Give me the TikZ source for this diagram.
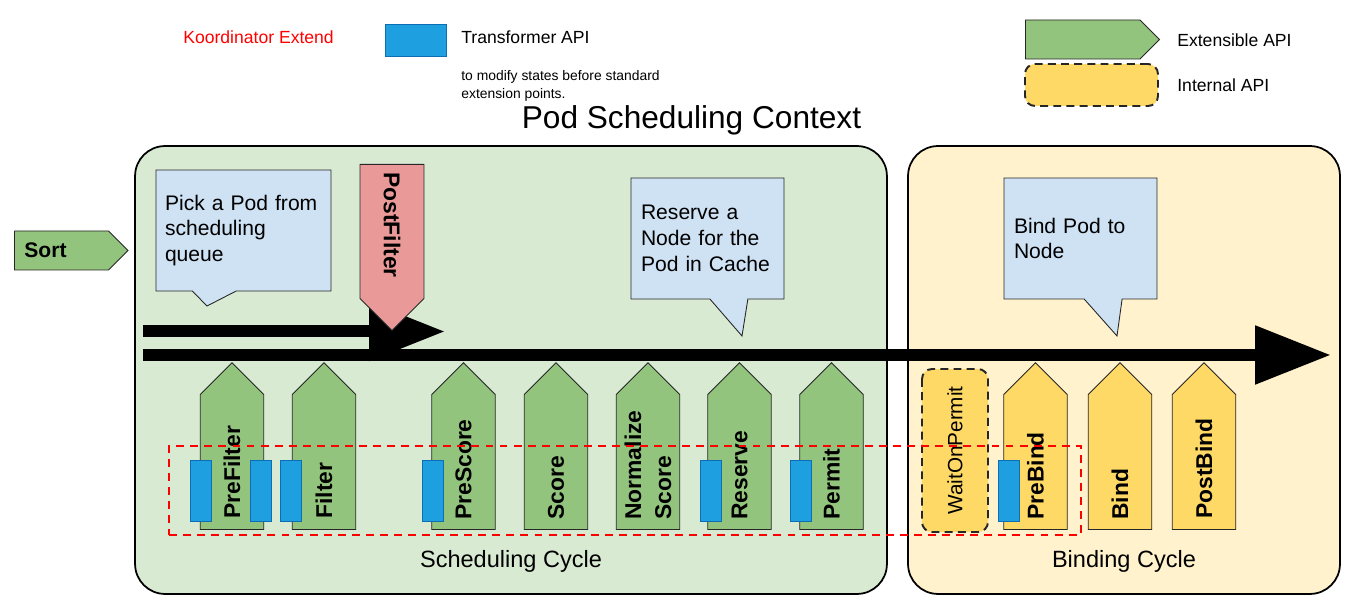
\documentclass[tikz,border=0pt]{standalone}
\usepackage{fontspec}
\setmainfont{Liberation Sans}
\usetikzlibrary{shapes.symbols,shapes.callouts,arrows.meta}
\definecolor{schedcolor}{RGB}{217,234,211}
\definecolor{bindcolor}{RGB}{255,242,204}
\definecolor{extcolor}{RGB}{147,196,125}
\definecolor{intcolor}{RGB}{255,217,102}
\definecolor{postcolor}{RGB}{234,153,153}
\definecolor{notecolor}{RGB}{207,226,243}
\definecolor{transcolor}{RGB}{29,159,224}
\definecolor{transborder}{RGB}{14,110,180}

\begin{document}
\begin{tikzpicture}[x=0.02cm, y=-0.02cm]
    % Define styles
    \tikzstyle{cyclebox} = [rectangle, draw, line width=1pt, rounded corners=0.6cm, minimum height=8.96cm, inner sep=0pt]
    \tikzstyle{cyclename} = [anchor=base, font=\fontsize{13.4}{16}\selectfont]
    \tikzstyle{note} = [rectangle callout, draw=black!85, line width=0.5pt, fill=notecolor, align=left, font=\fontsize{12}{14.7}\selectfont, inner xsep=0.2cm, minimum height=2.42cm]
    \tikzstyle{extapi} = [signal, signal to=north, signal pointer angle=90, draw=black!85, line width=0.5pt, fill=extcolor, minimum width=1.27cm, minimum height=2.7cm, anchor=south, inner sep=0pt]
    \tikzstyle{intapi} = [extapi, fill=intcolor]
    \tikzstyle{intbox} = [rectangle, draw=black!85, fill=intcolor, line width=1.1pt, dash pattern=on 4.5pt off 3pt, rounded corners=0.2cm, inner sep=0pt]
    \tikzstyle{uplabel} = [rotate=90, anchor=west, inner sep=0pt, align=left, font=\fontsize{13}{17}\selectfont\bfseries]
    \tikzstyle{downlabel} = [rotate=-90, anchor=west, inner sep=0pt, font=\fontsize{13}{17}\selectfont\bfseries]
    \tikzstyle{transbox} = [rectangle, draw=transborder, fill=transcolor, minimum width=0.42cm, minimum height=1.22cm, inner sep=0pt]
    \tikzstyle{koordbox} = [rectangle, draw=red, line width=1.1pt, dash pattern=on 4.5pt off 3.5pt, minimum width=18.24cm, minimum height=1.78cm, inner sep=0pt]
    \tikzstyle{legendtext} = [anchor=base west, inner sep=0pt, font=\fontsize{10}{12}\selectfont]
    \tikzstyle{flow} = [line width=0.24cm, -{Triangle[length=1.52cm, width=1.12cm]}]

    \useasboundingbox (0,0) rectangle (1367,614);

    % Legend
    \node[legendtext, text=red] (koordlegend) at (183,44) {Koordinator Extend};
    \node[transbox, minimum width=1.22cm, minimum height=0.64cm] (translegend) at (415.5,40) {};
    \node[legendtext] (transtext) at (461,44) {Transformer API};
    \node[anchor=north west, inner sep=0pt, align=left, font=\fontsize{7.9}{10.2}\selectfont] (transnote) at (461,70) {to modify states before standard\\extension points.};
    \node[extapi, signal to=east, anchor=west, minimum width=2.68cm, minimum height=0.78cm] (extlegend) at (1025,39.5) {};
    \node[intbox, minimum width=2.66cm, minimum height=0.84cm] (intlegend) at (1091.5,85) {};
    \node[legendtext] (exttext) at (1177,47) {Extensible API};
    \node[legendtext] (inttext) at (1177,92) {Internal API};

    % Title and cycles
    \node[anchor=base, font=\fontsize{18}{22}\selectfont] (title) at (691.5,129) {Pod Scheduling Context};
    \node[cyclebox, fill=schedcolor, minimum width=15.04cm] (sched) at (511,370) {};
    \node[cyclebox, fill=bindcolor, minimum width=8.64cm] (bind) at (1124,370) {};
    \node[cyclename] (schedname) at (511,568) {Scheduling Cycle};
    \node[cyclename] (bindname) at (1124,568) {Binding Cycle};

    % Sort
    \node[extapi, signal to=east, anchor=west, minimum width=0pt, minimum height=0.78cm, inner xsep=0.2cm, text width=1.48cm, align=left, font=\fontsize{12}{14}\selectfont\bfseries] (sort) at (14,250.5) {Sort};

    % Notes
    \node[note, inner xsep=0.18cm, text width=3.14cm, callout pointer width=0.88cm, callout absolute pointer={(207,306)}] (picknote) at (243.5,230.5) {Pick a Pod from\\scheduling\\queue};
    \node[note, text width=2.66cm, callout pointer width=0.76cm, callout absolute pointer={(742,336)}] (reservenote) at (707.5,238.5) {Reserve a\\Node for the\\Pod in Cache};
    \node[note, text width=2.66cm, callout pointer width=0.76cm, callout absolute pointer={(1117,336)}] (bindnote) at (1080.5,238.5) {Bind Pod to\\Node};

    % Arrows
    \coordinate (shortstart) at (143,331.5);
    \coordinate (shortend) at (445,331.5);
    \coordinate (cyclestart) at (143,355);
    \coordinate (cycleend) at (1331,355);
    \draw [flow] (shortstart) -- (shortend);
    \draw [flow] (cyclestart) -- (cycleend);

    % PostFilter
    \node[extapi, signal to=south, fill=postcolor, anchor=north, minimum width=1.28cm, minimum height=2.68cm] (postfilter) at (392,164) {};
    \node[downlabel] (postfilterlabel) at (392,172) {PostFilter};

    % Extension points
    \node[extapi] (prefilter) at (232,530) {};
    \node[extapi] (filter) at (324,530) {};
    \node[extapi] (prescore) at (463.5,530) {};
    \node[extapi] (score) at (556,530) {};
    \node[extapi] (normscore) at (648,530) {};
    \node[extapi] (reserve) at (739.5,530) {};
    \node[extapi] (permit) at (831.5,530) {};
    \node[intbox, rotate=90, minimum width=3.26cm, minimum height=1.32cm, font=\fontsize{11.8}{14}\selectfont] (waitonpermit) at (955,450.5) {WaitOnPermit};
    \node[intapi] (prebind) at (1035.5,530) {};
    \node[intapi] (bindpoint) at (1120,530) {};
    \node[intapi] (postbind) at (1204,530) {};

    \node[uplabel] (prefilterlabel) at (232,519) {PreFilter};
    \node[uplabel] (filterlabel) at (324,519) {Filter};
    \node[uplabel] (prescorelabel) at (463.5,520) {PreScore};
    \node[uplabel] (scorelabel) at (556,520) {Score};
    \node[uplabel] (normscorelabel) at (648,520) {Normalize\\Score};
    \node[uplabel] (reservelabel) at (739.5,520) {Reserve};
    \node[uplabel] (permitlabel) at (831.5,520) {Permit};
    \node[uplabel] (prebindlabel) at (1035.5,520) {PreBind};
    \node[uplabel] (bindlabel) at (1120,520) {Bind};
    \node[uplabel] (postbindlabel) at (1204,519) {PostBind};

    % Transformers
    \node[transbox] (pretrans) at (200.5,490.5) {};
    \node[transbox] (prefiltertrans) at (260.5,490.5) {};
    \node[transbox] (filtertrans) at (290.5,490.5) {};
    \node[transbox] (prescoretrans) at (432.5,490.5) {};
    \node[transbox] (reservetrans) at (710.5,490.5) {};
    \node[transbox] (permittrans) at (800.5,490.5) {};
    \node[transbox] (prebindtrans) at (1008.5,490.5) {};

    % Koordinator extend
    \node[koordbox] (koord) at (625,490.5) {};
\end{tikzpicture}
\end{document}
